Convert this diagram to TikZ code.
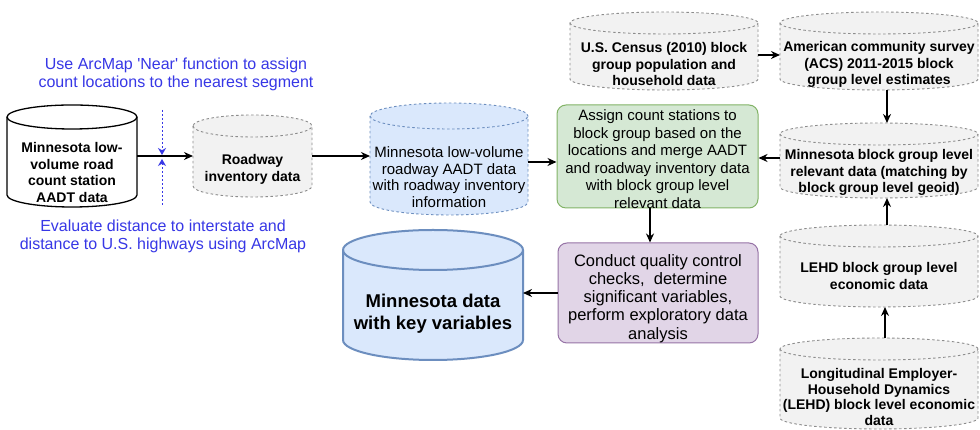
\documentclass[tikz,border=0pt]{standalone}
\usepackage{fontspec}
\setmainfont{Liberation Sans}
\usetikzlibrary{arrows.meta,calc}
\definecolor{annblue}{RGB}{55,55,230}
\definecolor{grayfill}{RGB}{242,242,242}
\definecolor{grayline}{RGB}{140,140,140}
\definecolor{bluefill}{RGB}{218,232,252}
\definecolor{blueline}{RGB}{108,142,191}
\definecolor{greenfill}{RGB}{213,232,212}
\definecolor{greenline}{RGB}{130,179,102}
\definecolor{purplefill}{RGB}{225,213,231}
\definecolor{purpleline}{RGB}{150,115,166}
\tikzset{
  x=1pt,y=1pt,
  arr/.style={draw=black,line width=1.5pt,-{Stealth[length=9pt,width=8pt]}},
  graycyl/.style={draw=grayline,fill=grayfill,line width=0.9pt,dash pattern=on 2.5pt off 2.5pt},
  whitecyl/.style={draw=black,fill=white,line width=1.3pt},
  bluecyl/.style={draw=blueline,fill=bluefill,line width=0.9pt,dash pattern=on 2.5pt off 2.5pt},
  bigcyl/.style={draw=blueline,fill=bluefill,line width=2pt},
  boldtxt/.style={align=center,inner sep=0,font=\bfseries\fontsize{14}{16.5}\selectfont},
  regtxt/.style={align=center,inner sep=0,font=\fontsize{15}{17.5}\selectfont},
  greenbox/.style={draw=greenline,fill=greenfill,line width=1pt,rounded corners=9pt},
  purplebox/.style={draw=purpleline,fill=purplefill,line width=1pt,rounded corners=9pt},
  anntxt/.style={align=center,inner sep=0,text=annblue,font=\fontsize{16}{18}\selectfont},
  bluedot/.style={draw=annblue,line width=1pt,dash pattern=on 2pt off 2pt},
}
% #1 style, #2 name, #3 xl, #4 yt, #5 xr, #6 yb, #7 ry
\newcommand{\dbcyl}[7]{%
  \pgfmathsetmacro{\cylrx}{(#5-#3)/2}%
  \path[#1] (#3,#4-#7) -- (#3,#6+#7)
     arc[start angle=180,end angle=360,x radius=\cylrx pt,y radius=#7pt]
     -- (#5,#4-#7)
     arc[start angle=0,end angle=180,x radius=\cylrx pt,y radius=#7pt] -- cycle;
  \path[#1,fill=none] (#3,#4-#7)
     arc[start angle=180,end angle=360,x radius=\cylrx pt,y radius=#7pt];
  \node[minimum width={(#5-#3)*1pt},minimum height={(#4-#6)*1pt},inner sep=0,outer sep=0]
     (#2) at ({(#3+#5)/2},{(#4+#6)/2}) {};%
}
\begin{document}
\begin{tikzpicture}
\useasboundingbox[fill=white] (0,0) rectangle (980,430);

% left cylinder
\dbcyl{whitecyl}{A}{7}{325}{137}{223}{12}
\node[boldtxt] (At) at (72,257.5) {Minnesota low-\\volume road\\count station\\AADT data};

% roadway inventory
\dbcyl{graycyl}{B}{193}{315}{312}{233}{11}
\node[boldtxt] (Bt) at (252.5,260.5) {Roadway\\inventory data};

% merged data (blue dashed)
\dbcyl{bluecyl}{C}{370}{327}{528}{215}{13}
\node[regtxt,font=\fontsize{15}{16.7}\selectfont] (Ct) at (449,253) {Minnesota low-volume\\roadway AADT data\\with roadway inventory\\information};

% green box
\node[greenbox,minimum width=201pt,minimum height=103pt] (D) at (657.5,273.5) {};
\node[regtxt] (Dt) at (657.5,271) {Assign count stations to\\block group based on the\\locations and merge AADT\\and roadway inventory data\\with block group level\\relevant data};

% purple box
\node[purplebox,minimum width=200pt,minimum height=100pt] (E) at (658,137) {};
\node[regtxt,font=\fontsize{16.5}{18.2}\selectfont] (Et) at (658,131.5) {Conduct quality control\\checks,~ determine\\significant variables,\\perform exploratory data\\analysis};

% final data
\dbcyl{bigcyl}{F}{343}{200}{523}{70}{20}
\node[boldtxt,font=\bfseries\fontsize{18.5}{22}\selectfont] (Ft) at (433,116) {Minnesota data\\with key variables};

% census
\dbcyl{graycyl}{G}{570}{418}{758}{340}{11}
\node[boldtxt] (Gt) at (664,365.5) {U.S. Census (2010) block\\group population and\\household data};

% ACS
\dbcyl{graycyl}{H}{780}{418}{978}{340}{11}
\node[boldtxt] (Ht) at (879,365.5) {American community survey\\(ACS) 2011-2015 block\\group level estimates};

% MN block group
\dbcyl{graycyl}{I}{780}{307}{978}{232}{11}
\node[boldtxt] (It) at (879,257.5) {Minnesota block group level\\relevant data (matching by\\block group level geoid)};

% LEHD bg
\dbcyl{graycyl}{J}{780}{205}{978}{123}{11}
\node[boldtxt] (Jt) at (879,154) {LEHD block group level\\economic data};

% Longitudinal
\dbcyl{graycyl}{K}{780}{92}{978}{1}{11}
\node[boldtxt,font=\bfseries\fontsize{14}{15.5}\selectfont] (Kt) at (879,33) {Longitudinal Employer-\\Household Dynamics\\(LEHD) block level economic\\data};

% annotations
\node[anntxt] (N1) at (176,356) {Use ArcMap \textquotesingle Near\textquotesingle\ function to assign\\count locations to the nearest segment};
\node[anntxt] (N2) at (163,194) {Evaluate distance to interstate and\\distance to U.S. highways using ArcMap};

% connectors
\draw[arr] (A.east) -- (A.east -| B.west);
\draw[arr] (B.east) -- (B.east -| C.west);
\draw[arr] ([yshift=-3pt]C.east) -- ([yshift=-3pt]C.east -| D.west);
\draw[arr] ([xshift=-7.5pt]D.south) -- ([xshift=-7.5pt]D.south |- E.north);
\draw[arr] (E.west) -- (E.west -| F.east);
\draw[arr] ([yshift=-4pt]G.east) -- ([yshift=-4pt]G.east -| H.west);
\draw[arr] ([xshift=8pt]H.south) -- ([xshift=8pt]H.south |- I.north);
\draw[arr] ([yshift=2.5pt]I.west) -- ([yshift=2.5pt]I.west -| D.east);
\draw[arr] ([xshift=8pt]J.north) -- ([xshift=8pt]J.north |- I.south);
\draw[arr] ([xshift=6pt]K.north) -- ([xshift=6pt]K.north |- J.south);

% blue dotted marker
\coordinate (vt) at (162,320);
\coordinate (vb) at (162,225);
\draw[bluedot,-{Stealth[length=7pt,width=8pt]}] (vt) -- (vt |- 0,275);
\draw[bluedot,-{Stealth[length=7pt,width=8pt]}] (vb) -- (vb |- 0,271);
\end{tikzpicture}
\end{document}
